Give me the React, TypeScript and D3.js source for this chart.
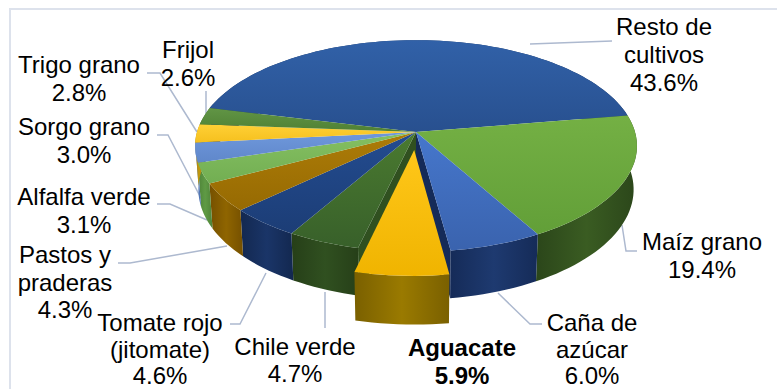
import React from "react";
import * as d3 from "d3";

// Crop shares, clockwise from the back-left of the disc
const cultivos = ["Resto de cultivos", "Maíz grano", "Caña de azúcar", "Aguacate", "Chile verde", "Tomate rojo (jitomate)", "Pastos y praderas", "Alfalfa verde", "Sorgo grano", "Trigo grano", "Frijol"];
const shares = [43.6, 19.4, 6.0, 5.9, 4.7, 4.6, 4.3, 3.1, 3.0, 2.8, 2.6];
const topLight = ["#3161A8", "#74B044", "#4677CC", "#FFC71A", "#4A7A30", "#234C90", "#AD7C08", "#85C062", "#6F98DC", "#FFD036", "#619545"];
const topDark = ["#28508F", "#629F38", "#3A63AE", "#F0B400", "#38602A", "#1C3D76", "#966A02", "#72AE52", "#5F87CA", "#F5C01E", "#4F8034"];
const wallMid = ["#1F3F70", "#3A5C22", "#1E3A70", "#9A7A00", "#305020", "#1A3568", "#8F6500", "#5F9A45", "#5A80BF", "#C49A10", "#4A7030"];
const wallEdge = ["#16305A", "#2B461A", "#152B58", "#7A6000", "#263F18", "#132850", "#755000", "#4E8338", "#4A6CA8", "#A07E08", "#3A5A24"];

// Label lines, their centres, first baselines and line steps
const labelLines = [["Resto de", "cultivos", "43.6%"], ["Maíz grano", "19.4%"], ["Caña de", "azúcar", "6.0%"], ["Aguacate", "5.9%"], ["Chile verde", "4.7%"], ["Tomate rojo", "(jitomate)", "4.6%"], ["Pastos y", "praderas", "4.3%"], ["Alfalfa verde", "3.1%"], ["Sorgo grano", "3.0%"], ["Trigo grano", "2.8%"], ["Frijol", "2.6%"]];
const labelX = [664, 702, 592, 462, 295, 160, 65, 84, 84, 79, 188];
const labelTop = [35, 250, 331, 356, 355, 331, 263, 205, 135, 73, 58];
const labelStep = [28, 28, 26.5, 28, 27, 26.5, 27.5, 27.5, 28, 28, 28];
const leaders = [
  "M612,41 L530,44",
  "M637,251 L626,251 L622,225",
  "M542,324 L530,324 L498,293",
  "",
  "M325,328 L325,292",
  "M230,324 L240,324 L266,273",
  "M118,263 L130,263 L227,246",
  "M157,204 L170,204 L207,220",
  "M157,135 L168,135 L203,202",
  "M147,73 L160,73 L197,132",
  "M206,91 L206,118",
];

const cx = 416, cy = 132, rx = 219, ry = 104, persp = 0.132, depth = 43;
const startDeg = -76.3, explodedIndex = 3, explode = 0.17;

const toRad = (d: number) => (d * Math.PI) / 180;
// Disc coordinates (u right, v toward viewer) projected onto the screen
function project(u: number, v: number, low = false): [number, number] {
  const s = 1 / (1 - persp * v);
  const k = low ? 0.985 : 1;
  return [cx + rx * u * s * k, cy + ry * v * s * k + (low ? depth * s : 0)];
}
const line = d3.line<[number, number]>();

const pie = d3.pie<number>().sort(null).startAngle(toRad(startDeg)).endAngle(toRad(startDeg + 360));
const arcs = pie(shares);
const midAngle = (arcs[explodedIndex].startAngle + arcs[explodedIndex].endAngle) / 2;
const dirU = Math.sin(midAngle) * explode;
const dirV = -Math.cos(midAngle) * explode;

function rim(a0: number, a1: number, uOff: number, vOff: number, low: boolean) {
  const n = Math.max(2, Math.ceil(((a1 - a0) * 180) / Math.PI / 2));
  return d3.range(n + 1).map((i) => {
    const a = a0 + ((a1 - a0) * i) / n;
    return project(Math.sin(a) + uOff, -Math.cos(a) + vOff, low);
  });
}

export default function App() {
  const order = arcs.map((_, i) => i).filter((i) => i !== explodedIndex);
  const wall = (i: number, uOff: number, vOff: number) => {
    const a = arcs[i];
    const top = rim(a.startAngle, a.endAngle, uOff, vOff, false);
    const bot = rim(a.startAngle, a.endAngle, uOff, vOff, true).reverse();
    return (line([...top, ...bot]) ?? "") + "Z";
  };
  const top = (i: number, uOff: number, vOff: number) => {
    const a = arcs[i];
    return (line([project(uOff, vOff), ...rim(a.startAngle, a.endAngle, uOff, vOff, false)]) ?? "") + "Z";
  };
  const radial = (angle: number) => {
    const p = project(Math.sin(angle), -Math.cos(angle));
    const q = project(Math.sin(angle), -Math.cos(angle), true);
    return (line([project(0, 0), p, q, project(0, 0, true)]) ?? "") + "Z";
  };
  return (
    <svg width={777} height={389} style={{ position: "absolute", left: 0, top: 0 }} fontFamily="'Liberation Sans', Arial, sans-serif">
      <defs>
        {arcs.map((_, i) => (
          <React.Fragment key={i}>
            <linearGradient id={`t${i}`} x1="0" y1="0" x2="0" y2="1">
              <stop offset="0" stopColor={topLight[i]} />
              <stop offset="1" stopColor={topDark[i]} />
            </linearGradient>
            <linearGradient id={`w${i}`} x1="0" y1="0" x2="1" y2="0">
              <stop offset="0" stopColor={wallEdge[i]} />
              <stop offset="0.5" stopColor={wallMid[i]} />
              <stop offset="1" stopColor={wallEdge[i]} />
            </linearGradient>
          </React.Fragment>
        ))}
      </defs>
      <rect width={777} height={389} fill="#fff" />
      {/* Frame runs past the right and bottom edges of the page */}
      <rect x={10} y={9} width={800} height={420} fill="#fff" stroke="#DDE2EC" strokeWidth={2} />
      {leaders.map((d, i) => d && <path key={i} d={d} fill="none" stroke="#ADB9CF" strokeWidth={1.5} />)}
      {order.map((i) => <path key={i} d={wall(i, 0, 0)} fill={`url(#w${i})`} />)}
      <path d={radial(arcs[explodedIndex].endAngle)} fill={wallMid[4]} />
      <path d={radial(arcs[explodedIndex].startAngle)} fill={wallEdge[2]} />
      {order.map((i) => <path key={i} d={top(i, 0, 0)} fill={`url(#t${i})`} />)}
      <path d={wall(explodedIndex, dirU, dirV)} fill={`url(#w${explodedIndex})`} />
      <path d={top(explodedIndex, dirU, dirV)} fill={`url(#t${explodedIndex})`} />
      {labelLines.map((lines, i) => (
        <text key={i} x={labelX[i]} y={labelTop[i]} textAnchor="middle" fontSize={24} fontWeight={i === explodedIndex ? 700 : 400} fill="#000">
          {lines.map((l, j) => <tspan key={j} x={labelX[i]} dy={j === 0 ? 0 : labelStep[i]}>{l}</tspan>)}
        </text>
      ))}
    </svg>
  );
}
